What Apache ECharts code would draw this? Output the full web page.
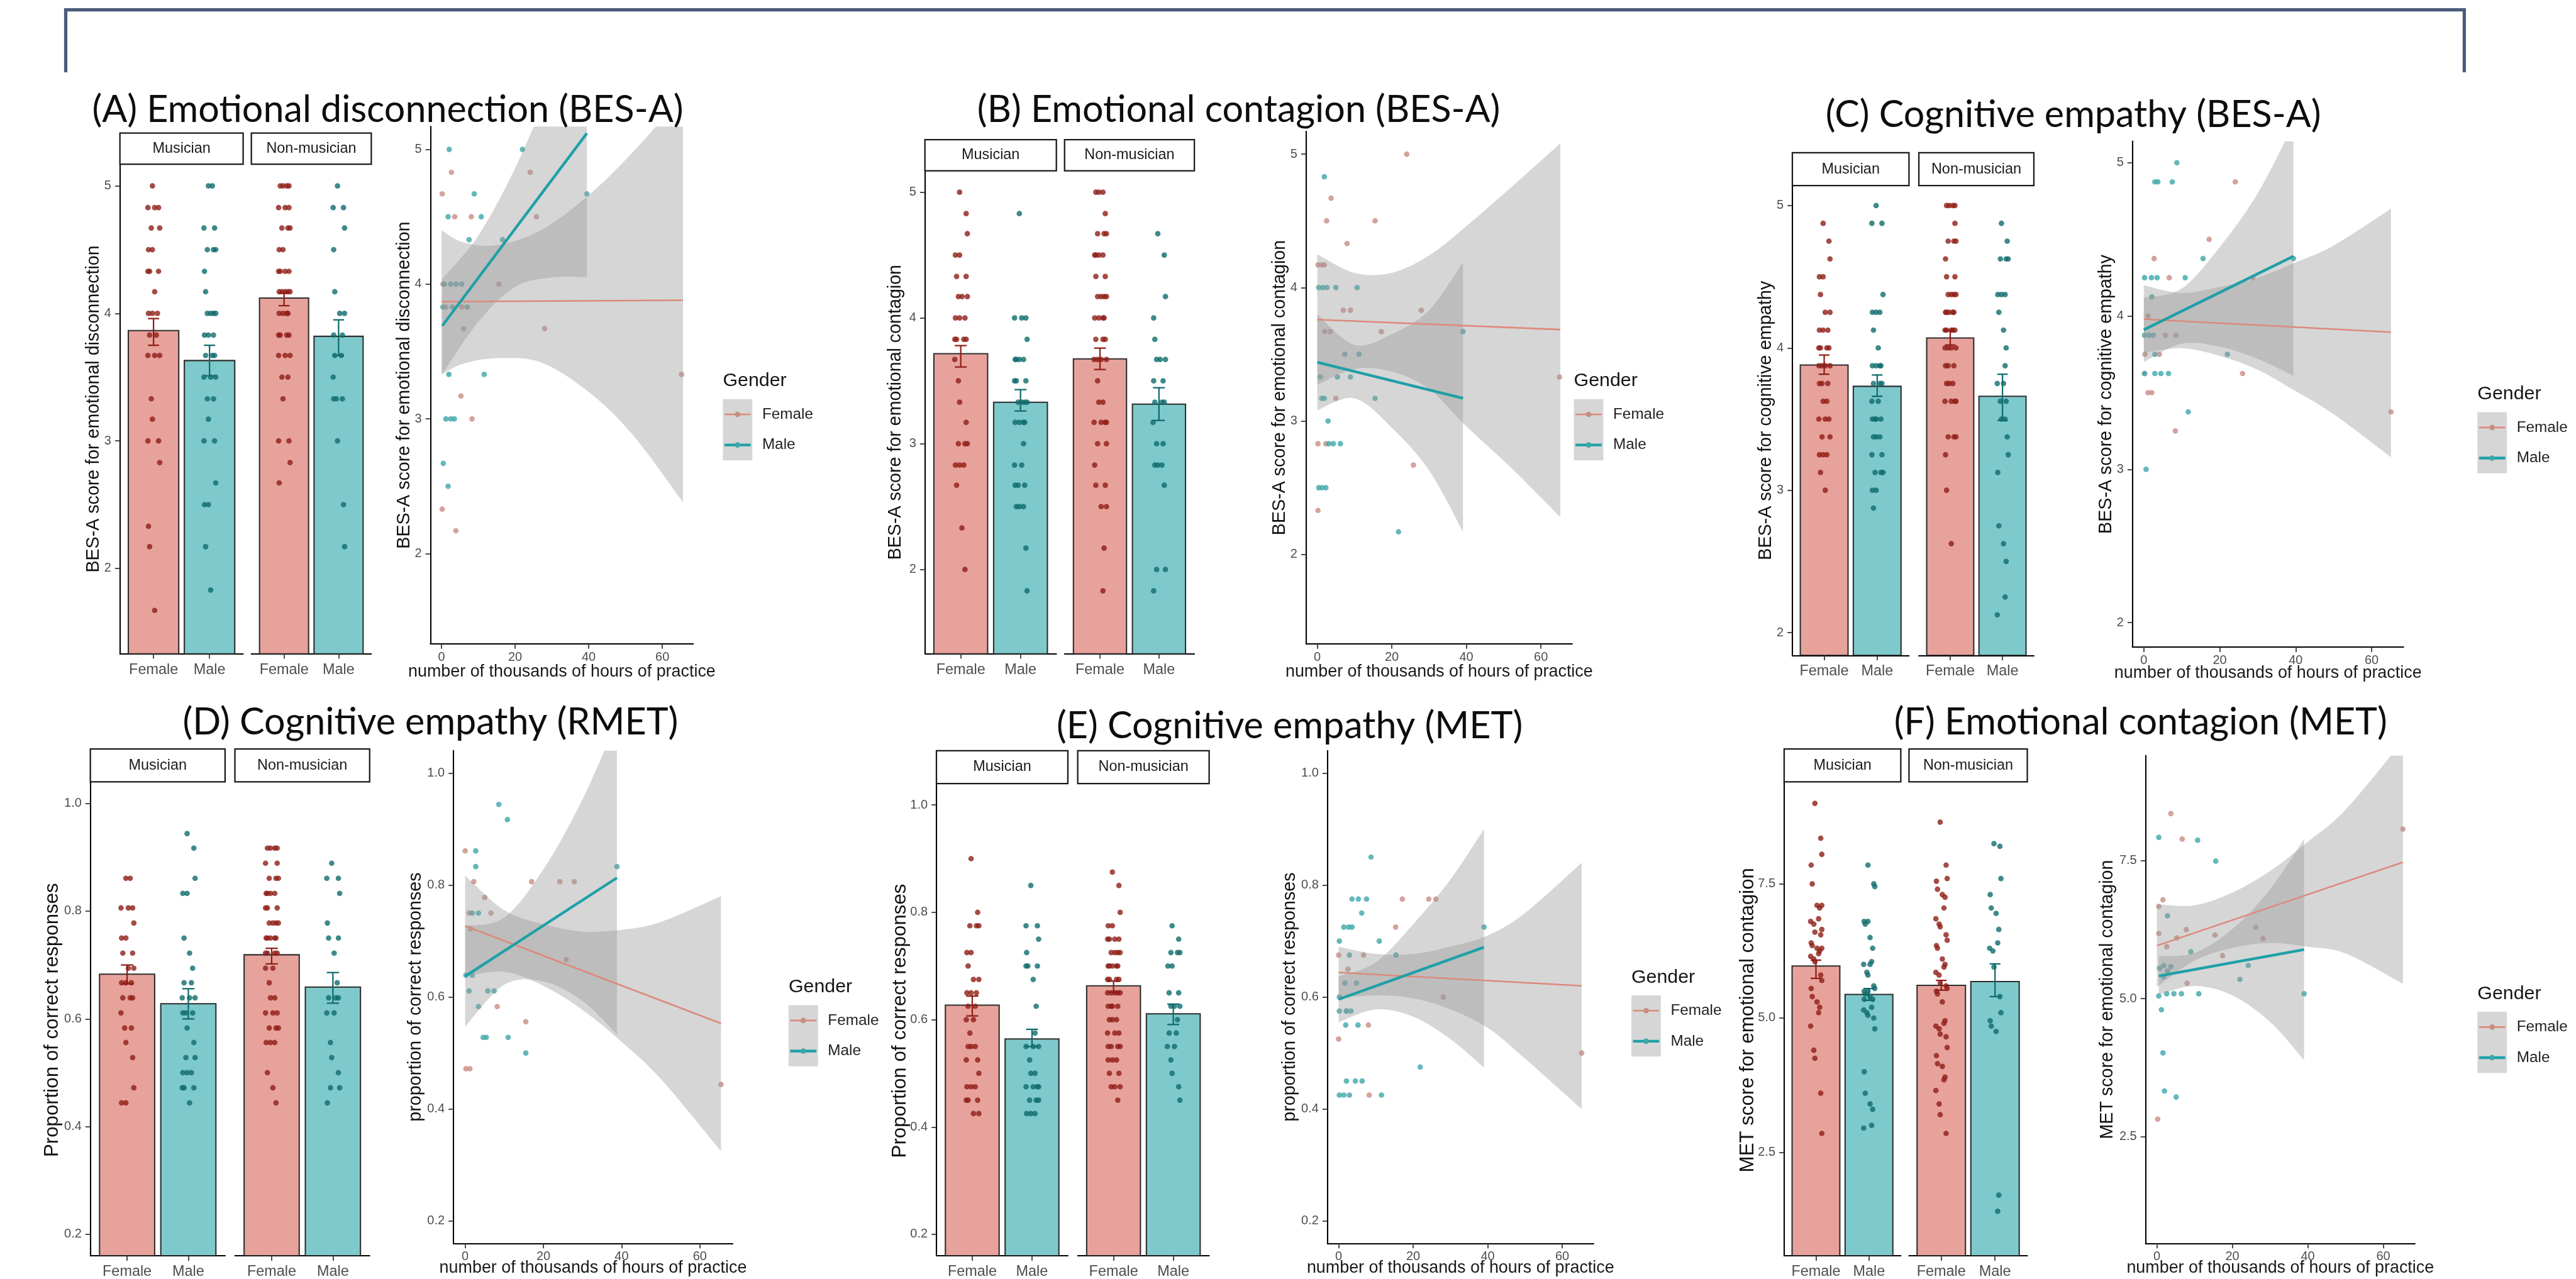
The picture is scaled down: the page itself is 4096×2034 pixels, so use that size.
<!DOCTYPE html>
<html>
<head>
<meta charset="utf-8">
<title>Empathy scores by musicianship and gender</title>
<script src="https://cdn.jsdelivr.net/npm/echarts/dist/echarts.min.js"></script>
<style>
html,body{margin:0;padding:0;background:#ffffff;overflow:hidden;}
#chart{width:4096px;height:2034px;}
</style>
</head>
<body>
<div id="chart"></div>
<script>
// ======================= DATA =======================
const genderCategories = ['Female', 'Male'];
const facetLabels = ['Musician', 'Non-musician'];
const scatterXTicks = [0, 20, 40, 60];
const besTicks = [2, 3, 4, 5];
const propTicks = [0.2, 0.4, 0.6, 0.8, 1.0];
const metTicks = [2.5, 5.0, 7.5];
const xLabel = 'number of thousands of hours of practice';
const legendTitle = 'Gender';

const titles = [
  '(A) Emotional disconnection (BES-A)',
  '(B) Emotional contagion (BES-A)',
  '(C) Cognitive empathy (BES-A)',
  '(D) Cognitive empathy (RMET)',
  '(E) Cognitive empathy (MET)',
  '(F) Emotional contagion (MET)'
];
const barYLabels = [
  'BES-A score for emotional disconnection',
  'BES-A score for emotional contagion',
  'BES-A score for cognitive empathy',
  'Proportion of correct responses',
  'Proportion of correct responses',
  'MET score for emotional contagion'
];
const scatterYLabels = [
  'BES-A score for emotional disconnection',
  'BES-A score for emotional contagion',
  'BES-A score for cognitive empathy',
  'proportion of correct responses',
  'proportion of correct responses',
  'MET score for emotional contagion'
];

// ---- Panel A : emotional disconnection (BES-A) ----
const A_yRange = [1.33, 5.17];
const A_musF = [5, 4.83,4.83,4.83, 4.67,4.67, 4.5,4.5, 4.33,4.33,4.33, 4.17, 4,4,4, 3.83,3.83, 3.67,3.67,3.67, 3.33, 3.17, 3,3, 2.83, 2.33, 2.17, 1.67];
const A_musM = [5,5, 4.67,4.67, 4.5,4.5,4.5, 4.33, 4.17, 4,4,4,4, 3.83,3.83,3.83, 3.67,3.67,3.67, 3.5,3.5,3.5, 3.33,3.33, 3.17, 3,3, 2.67, 2.5,2.5, 2.17, 1.83];
const A_nonF = [5,5,5,5, 4.83,4.83,4.83, 4.67,4.67,4.67, 4.5,4.5, 4.33,4.33,4.33,4.33, 4.17,4.17,4.17,4.17,4.17, 4,4,4,4, 3.83,3.83,3.83,3.83, 3.67,3.67,3.67, 3.5,3.5, 3.33, 3,3, 2.83, 2.67];
const A_nonM = [5, 4.83,4.83, 4.67, 4.5, 4.17, 4,4, 3.83,3.83, 3.67,3.67, 3.5, 3.33,3.33,3.33, 3, 2.5, 2.17];
const A_mean = [3.865, 3.63, 4.12, 3.82];
const A_seLo = [3.75, 3.51, 4.06, 3.67];
const A_seHi = [3.96, 3.75, 4.16, 3.95];
const A_scF = [[0.2,4.67],[2.7,4.83],[0.4,4.0],[6,3.67],[5.3,3.17],[8.3,3.0],[0.2,2.33],[3.9,2.17],[8.1,4.5],[15.6,4.0],[24.1,4.83],[25.8,4.5],[28,3.67],[65.2,3.33],[1.2,3.83],[3.6,4.5],[5.5,3.83]];
const A_scM = [[2.1,5],[22,5],[8.9,4.67],[7.5,4.33],[10.8,4.5],[1.8,4.5],[16.6,4.33],[39.5,4.67],[0.8,4],[2.5,4],[4,4],[5.5,4],[0.4,3.83],[3,3.83],[7,3.83],[2,3.33],[11.6,3.33],[1.2,3],[2.5,3],[3.5,3],[0.5,2.67],[1.8,2.5]];
const A_fitF = [[0,3.87],[65.6,3.88]];
const A_fitM = [[0.2,3.69],[39.5,5.12]];
const A_bandF = [[0,3.33,4.40],[6,3.41,4.31],[15,3.45,4.29],[27,3.42,4.40],[40,3.20,4.66],[52,2.88,4.98],[65.6,2.38,5.40]];
const A_bandM = [[0.2,3.33,4.04],[10,3.72,4.36],[20,3.98,4.86],[30,4.05,5.50],[39.5,4.05,6.20]];
const A_star = [[43, 5.11]];

// ---- Panel B : emotional contagion (BES-A) ----
const B_yRange = [1.33, 5.17];
const B_musF = [5, 4.83, 4.67, 4.5,4.5, 4.33,4.33, 4.17,4.17,4.17, 4,4,4, 3.83,3.83,3.83,3.83, 3.67, 3.5, 3.33, 3.17, 3,3,3, 2.83,2.83,2.83, 2.67, 2.33, 2];
const B_musM = [4.83, 4,4,4, 3.83, 3.67,3.67,3.67,3.67, 3.5,3.5,3.5, 3.33,3.33,3.33,3.33, 3.17,3.17,3.17,3.17, 3, 2.83,2.83, 2.67,2.67,2.67, 2.5,2.5,2.5, 2.17, 1.83];
const B_nonF = [5,5,5, 4.83, 4.67,4.67,4.67, 4.5,4.5,4.5,4.5, 4.33,4.33, 4.17,4.17,4.17,4.17, 4,4,4,4, 3.83,3.83,3.83, 3.67,3.67,3.67,3.67, 3.5, 3.33,3.33, 3.17,3.17,3.17,3.17, 3,3, 2.83, 2.67,2.67, 2.5,2.5, 2.17, 1.83];
const B_nonM = [4.67, 4.5, 4.17, 4, 3.83, 3.67,3.67,3.67, 3.5,3.5, 3.33,3.33,3.33, 3.17, 3,3, 2.83,2.83,2.83, 2.67, 2,2, 1.83];
const B_mean = [3.716, 3.33, 3.675, 3.315];
const B_seLo = [3.61, 3.26, 3.59, 3.185];
const B_seHi = [3.78, 3.43, 3.76, 3.445];
const B_scF = [[24,5],[3.7,4.67],[2.5,4.5],[15.5,4.5],[8,4.33],[0.2,4.17],[1.2,4.17],[1.9,4.17],[7,3.83],[8.9,3.83],[2,3.67],[3.5,3.67],[17.2,3.67],[27.9,3.83],[5,3.17],[0.2,2.83],[2.3,2.83],[25.8,2.67],[0.2,2.33],[65,3.33]];
const B_scM = [[1.9,4.83],[0.4,4],[1.5,4],[2.6,4],[5,4],[10.7,4],[7.4,3.5],[11.2,3.5],[0.8,3.33],[5.4,3.33],[8.9,3.33],[1.2,3.17],[1.9,3.17],[2.9,3],[3.1,2.83],[4.3,2.83],[6.2,2.83],[0.4,2.5],[1.3,2.5],[2.3,2.5],[15.5,3.17],[21.8,2.17],[39.1,3.67]];
const B_fitF = [[0,3.76],[65.2,3.685]];
const B_fitM = [[0,3.44],[39.1,3.17]];
const B_bandF = [[0,3.27,4.25],[10,3.39,4.11],[20,3.37,4.11],[30,3.24,4.24],[40,2.96,4.46],[52,2.65,4.75],[65.2,2.28,5.08]];
const B_bandM = [[0,3.08,3.80],[10,3.17,3.57],[20,2.95,3.65],[30,2.63,3.83],[39.1,2.17,4.19]];

// ---- Panel C : cognitive empathy (BES-A) ----
const C_yRange = [1.84, 5.14];
const C_musF = [4.875, 4.75, 4.625, 4.5,4.5, 4.375, 4.25,4.25, 4.125,4.125,4.125, 4,4,4,4, 3.875,3.875,3.875,3.875, 3.75,3.75,3.75, 3.625,3.625, 3.5,3.5,3.5, 3.375,3.375, 3.25,3.25,3.25, 3.125, 3];
const C_musM = [5, 4.875,4.875, 4.375, 4.25,4.25,4.25, 4.125, 4, 3.875,3.875,3.875,3.875, 3.75,3.75,3.75, 3.625,3.625, 3.5,3.5,3.5,3.5, 3.375,3.375,3.375, 3.25,3.25, 3.125,3.125,3.125, 3,3, 2.875];
const C_nonF = [5,5,5,5, 4.875, 4.75,4.75,4.75, 4.625, 4.5,4.5, 4.375,4.375,4.375,4.375, 4.25,4.25,4.25,4.25,4.25, 4.125,4.125,4.125,4.125,4.125, 4,4,4,4, 3.875,3.875,3.875, 3.75,3.75,3.75, 3.625,3.625,3.625,3.625, 3.375,3.375,3.375, 3.25, 3, 2.625];
const C_nonM = [4.875, 4.75, 4.625,4.625,4.625, 4.375,4.375,4.375, 4.25, 4.125, 4, 3.875, 3.75,3.75, 3.625,3.625, 3.5,3.5, 3.375, 3.25, 3.125, 2.75, 2.625, 2.5, 2.25, 2.125];
const C_mean = [3.88, 3.73, 4.07, 3.66];
const C_seLo = [3.815, 3.66, 4.02, 3.49];
const C_seHi = [3.95, 3.81, 4.12, 3.815];
const C_scF = [[24.1,4.875],[17.2,4.5],[2.7,4.375],[6.7,4.25],[1.1,4.0],[0.3,3.75],[4.1,3.75],[0.2,3.625],[1.1,3.5],[2.1,3.5],[8.3,3.25],[26,3.625],[65.1,3.375],[28.7,4.25],[5.7,3.875],[8.5,3.875]];
const C_scM = [[8.7,5],[2.9,4.875],[3.7,4.875],[7.5,4.875],[15.6,4.375],[10.9,4.25],[0.2,4.25],[2,4.25],[3.5,4.25],[2.1,4.125],[0.2,3.875],[1.4,3.875],[2.5,3.875],[39.4,4.375],[2.9,3.625],[4.5,3.625],[6.5,3.625],[0.2,3.625],[11.7,3.375],[0.6,3],[2.9,3.75],[22,3.75]];
const C_fitF = [[0,3.98],[65.1,3.895]];
const C_fitM = [[0,3.91],[39.4,4.39]];
const C_bandF = [[0,3.76,4.20],[10,3.79,4.15],[20,3.74,4.19],[30,3.65,4.25],[40,3.51,4.35],[50,3.36,4.46],[65.1,3.08,4.70]];
const C_bandM = [[0,3.70,4.12],[10,3.82,4.18],[20,3.80,4.45],[30,3.72,4.80],[39.4,3.61,5.25]];

// ---- Panel D : cognitive empathy (RMET) ----
const D_yRange = [0.16, 1.04];
const D_musF = [0.861,0.861, 0.806,0.806,0.806, 0.778, 0.75,0.75, 0.722,0.722, 0.694,0.694, 0.667,0.667,0.667, 0.639,0.639,0.639, 0.611, 0.583,0.583, 0.556, 0.528, 0.472, 0.444,0.444];
const D_musM = [0.944, 0.917, 0.861, 0.833,0.833, 0.75, 0.722, 0.694, 0.667,0.667, 0.639,0.639,0.639, 0.611,0.611,0.611, 0.583, 0.556, 0.528,0.528, 0.5,0.5,0.5, 0.472,0.472,0.472, 0.444];
const D_nonF = [0.917,0.917,0.917,0.917, 0.889,0.889, 0.861,0.861,0.861, 0.833,0.833,0.833,0.833, 0.806,0.806,0.806, 0.778,0.778,0.778,0.778, 0.75,0.75,0.75,0.75,0.75, 0.722,0.722,0.722,0.722, 0.694,0.694, 0.667, 0.639,0.639, 0.611,0.611,0.611, 0.583,0.583,0.583, 0.556,0.556,0.556, 0.5, 0.472, 0.444];
const D_nonM = [0.889, 0.861,0.861, 0.833, 0.778, 0.75,0.75, 0.722, 0.667, 0.639,0.639,0.639, 0.611,0.611, 0.556, 0.528, 0.5, 0.472,0.472, 0.444];
const D_mean = [0.683, 0.628, 0.719, 0.659];
const D_seLo = [0.665, 0.60, 0.702, 0.629];
const D_seHi = [0.70, 0.656, 0.731, 0.686];
const D_scF = [[0,0.861],[2.2,0.806],[5,0.778],[6.6,0.75],[1,0.75],[1.4,0.722],[17,0.806],[24.2,0.806],[27.9,0.806],[25.8,0.667],[8.2,0.583],[15.5,0.556],[0.2,0.472],[1.2,0.472],[65.4,0.444]];
const D_scM = [[8.6,0.944],[10.8,0.917],[2.7,0.861],[2.7,0.833],[1.8,0.75],[3.4,0.75],[0.2,0.639],[1.8,0.639],[1,0.611],[5.8,0.611],[7.4,0.611],[3.4,0.583],[4.6,0.528],[5.4,0.528],[11,0.528],[15.5,0.5],[38.8,0.833]];
const D_fitF = [[0,0.727],[65.4,0.553]];
const D_fitM = [[0,0.637],[38.8,0.813]];
const D_bandF = [[0,0.637,0.817],[10,0.645,0.755],[20,0.62,0.73],[30,0.577,0.717],[40,0.52,0.72],[50,0.454,0.734],[65.4,0.325,0.78]];
const D_bandM = [[0,0.547,0.727],[10,0.622,0.742],[20,0.628,0.828],[30,0.593,0.953],[38.8,0.533,1.093]];

// ---- Panel E : cognitive empathy (MET) ----
const E_yRange = [0.16, 1.04];
const E_musF = [0.9, 0.8, 0.775,0.775,0.775, 0.725,0.725, 0.7, 0.675,0.675, 0.65,0.65,0.65, 0.625,0.625, 0.6,0.6, 0.575, 0.55,0.55,0.55, 0.525,0.525, 0.5, 0.475,0.475,0.475, 0.45,0.45,0.45, 0.425,0.425];
const E_musM = [0.85, 0.775,0.775, 0.75, 0.725, 0.7,0.7,0.7, 0.675, 0.625, 0.575, 0.55,0.55,0.55, 0.525, 0.5,0.5, 0.475,0.475,0.475,0.475, 0.45,0.45,0.45, 0.425,0.425,0.425];
const E_nonF = [0.875, 0.85, 0.8, 0.775,0.775, 0.75,0.75,0.75,0.75, 0.725,0.725,0.725,0.725, 0.7,0.7,0.7,0.7,0.7, 0.675,0.675,0.675,0.675, 0.65,0.65,0.65,0.65,0.65, 0.625,0.625,0.625,0.625, 0.6,0.6,0.6, 0.575,0.575,0.575, 0.55,0.55,0.55,0.55, 0.525,0.525,0.525, 0.5,0.5, 0.475,0.475,0.475, 0.45];
const E_nonM = [0.775, 0.75, 0.725,0.725,0.725, 0.7,0.7, 0.65,0.65, 0.625,0.625,0.625, 0.6, 0.575,0.575, 0.55,0.55, 0.525, 0.5, 0.475, 0.45];
const E_mean = [0.627, 0.564, 0.663, 0.611];
const E_seLo = [0.607, 0.55, 0.651, 0.591];
const E_seHi = [0.644, 0.582, 0.672, 0.629];
const E_scF = [[0,0.675],[2.5,0.65],[6.7,0.675],[0,0.525],[8,0.55],[8.2,0.425],[17.1,0.775],[24.2,0.775],[26.1,0.775],[15.3,0.725],[28.1,0.6],[65.2,0.5],[2.1,0.575]];
const E_scM = [[8.7,0.85],[3.6,0.775],[5.3,0.775],[7.5,0.775],[6.2,0.75],[1.4,0.725],[2.7,0.725],[3.6,0.725],[0.2,0.7],[10.9,0.7],[2.9,0.675],[15.4,0.675],[1.7,0.625],[4.8,0.625],[0.2,0.575],[2.1,0.575],[3.3,0.575],[1.9,0.55],[5.2,0.55],[2.1,0.45],[4.5,0.45],[6.3,0.45],[0.2,0.425],[1.4,0.425],[2.9,0.425],[11.5,0.425],[21.9,0.475],[39,0.725],[0.2,0.6]];
const E_fitF = [[0,0.644],[65.2,0.62]];
const E_fitM = [[0,0.596],[39,0.689]];
const E_bandF = [[0,0.598,0.69],[10,0.603,0.677],[20,0.598,0.677],[30,0.578,0.69],[40,0.545,0.71],[50,0.49,0.75],[65.2,0.40,0.84]];
const E_bandM = [[0,0.555,0.637],[10,0.578,0.662],[20,0.565,0.73],[30,0.525,0.81],[39,0.474,0.90]];

// ---- Panel F : emotional contagion (MET) ----
const F_yRange = [0.57, 9.4];
const F_musF = [9.0, 8.35, 8.05, 7.85, 7.5, 7.1, 7.05, 7.1, 6.85, 6.8, 6.75, 6.6, 6.55, 6.65, 6.4, 6.35, 6.3, 6.25, 6.2, 6.15, 6.1, 6.05, 6.3, 5.8, 5.7, 5.55, 5.4, 5.3, 5.2, 5.1, 4.85, 4.4, 4.25, 3.6, 2.85];
const F_musM = [7.85, 7.5, 7.45, 6.8, 6.8, 6.75, 6.5, 6.3, 6.05, 6.0, 6.0, 5.85, 5.8, 5.6, 5.55, 5.5, 5.5, 5.45, 5.4, 5.35, 5.35, 5.2, 5.15, 5.1, 5.05, 5.0, 4.8, 4.0, 3.6, 3.4, 3.3, 3.0, 2.95];
const F_nonF = [8.65, 7.85, 7.6, 7.55, 7.4, 7.3, 7.25, 7.05, 6.85, 6.75, 6.7, 6.55, 6.45, 6.35, 6.3, 6.1, 6.0, 5.95, 5.85, 5.8, 5.65, 5.6, 5.55, 5.5, 5.45, 5.3, 4.95, 4.9, 4.85, 4.8, 4.7, 4.65, 4.45, 4.3, 4.15, 4.1, 3.9, 3.85, 3.65, 3.4, 3.2, 2.85];
const F_nonM = [8.25, 8.2, 7.6, 7.3, 7.05, 6.95, 6.65, 6.4, 6.3, 6.25, 5.95, 5.4, 5.1, 4.95, 4.85, 4.75, 1.7, 1.4];
const F_mean = [5.97, 5.44, 5.61, 5.68];
const F_seLo = [5.74, 5.33, 5.52, 5.40];
const F_seHi = [6.08, 5.55, 5.70, 6.01];
const F_scF = [[3.7,8.35],[6.7,7.89],[0.5,6.67],[1.6,6.79],[0.5,6.18],[5.3,6.1],[7.8,6.25],[15.4,6.15],[2.6,5.94],[17.4,5.78],[26.2,6.29],[28.1,6.09],[8,5.28],[0.2,2.82],[65.2,8.07]];
const F_scM = [[0.5,7.92],[10.8,7.87],[15.6,7.49],[2.8,6.5],[9,5.85],[0.7,5.55],[1.8,5.6],[2.8,5.5],[3.7,5.58],[1.8,5.4],[0.5,5.05],[2.6,5.09],[4.5,5.09],[6.5,5.09],[11.1,5.09],[1.2,4.8],[1.6,4.02],[2,3.33],[5.1,3.22],[22,5.35],[39,5.09],[24.2,5.6]];
const F_fitF = [[0,5.96],[65.2,7.47]];
const F_fitM = [[0.5,5.41],[39,5.89]];
const F_bandF = [[0,5.21,6.71],[10,5.69,6.69],[20,5.92,6.92],[30,6.01,7.31],[40,5.94,7.84],[50,5.82,8.42],[65.2,5.27,9.67]];
const F_bandM = [[0.5,5.07,5.77],[10,5.23,5.83],[20,5.06,6.26],[30,4.58,6.98],[39,3.89,7.89]];

// ======================= LAYOUT =======================
// positions in units of a 1568-wide view of the figure; sizes in units of the 4719-wide original
const U = 4096 / 1568;
const u = v => v * U;
const K = 4096 / 4719;
const s = v => v * K;

const LAYOUTS = [
  {title:[236,67],  bars:{f1:[73,148],   f2:[153,226],   strip:81, top:100, bottom:398, ylab:57,   yfs:33}, sc:{l:262,  r:422,  t:77,  b:392, ylab:246,  xlab:409}, leg:[440,232]},
  {title:[754,67],  bars:{f1:[563,643],  f2:[648,727],   strip:85, top:104, bottom:398, ylab:545,  yfs:33}, sc:{l:795,  r:957,  t:80,  b:392, ylab:779,  xlab:409}, leg:[958,232]},
  {title:[1262,70], bars:{f1:[1091,1162],f2:[1168,1238], strip:93, top:113, bottom:399, ylab:1075, yfs:33}, sc:{l:1298, r:1463, t:86,  b:394, ylab:1282, xlab:410}, leg:[1508,240]},
  {title:[262,440], bars:{f1:[55,137],   f2:[143,225],   strip:456, top:476, bottom:766, ylab:32,  yfs:36}, sc:{l:276,  r:446,  t:457, b:757, ylab:253,  xlab:772}, leg:[480,601]},
  {title:[785,442], bars:{f1:[570,650],  f2:[656,736],   strip:457, top:477, bottom:766, ylab:548, yfs:36}, sc:{l:808,  r:970,  t:457, b:757, ylab:785,  xlab:772}, leg:[993,595]},
  {title:[1303,440],bars:{f1:[1086,1157],f2:[1162,1234], strip:456, top:476, bottom:766, ylab:1064,yfs:36}, sc:{l:1306, r:1470, t:460, b:757, ylab:1283, xlab:772}, leg:[1508,605]}
];
const TITLE_REF_WIDTH = 360; // width of title A in the 1568 view

const PANELS = [
  {title:titles[0], barY:barYLabels[0], scY:scatterYLabels[0], yr:A_yRange, ticks:besTicks, dec:0, groups:[A_musF,A_musM,A_nonF,A_nonM], mean:A_mean, lo:A_seLo, hi:A_seHi, scF:A_scF, scM:A_scM, fitF:A_fitF, fitM:A_fitM, bandF:A_bandF, bandM:A_bandM, star:A_star},
  {title:titles[1], barY:barYLabels[1], scY:scatterYLabels[1], yr:B_yRange, ticks:besTicks, dec:0, groups:[B_musF,B_musM,B_nonF,B_nonM], mean:B_mean, lo:B_seLo, hi:B_seHi, scF:B_scF, scM:B_scM, fitF:B_fitF, fitM:B_fitM, bandF:B_bandF, bandM:B_bandM},
  {title:titles[2], barY:barYLabels[2], scY:scatterYLabels[2], yr:C_yRange, ticks:besTicks, dec:0, groups:[C_musF,C_musM,C_nonF,C_nonM], mean:C_mean, lo:C_seLo, hi:C_seHi, scF:C_scF, scM:C_scM, fitF:C_fitF, fitM:C_fitM, bandF:C_bandF, bandM:C_bandM},
  {title:titles[3], barY:barYLabels[3], scY:scatterYLabels[3], yr:D_yRange, ticks:propTicks, dec:1, groups:[D_musF,D_musM,D_nonF,D_nonM], mean:D_mean, lo:D_seLo, hi:D_seHi, scF:D_scF, scM:D_scM, fitF:D_fitF, fitM:D_fitM, bandF:D_bandF, bandM:D_bandM},
  {title:titles[4], barY:barYLabels[4], scY:scatterYLabels[4], yr:E_yRange, ticks:propTicks, dec:1, groups:[E_musF,E_musM,E_nonF,E_nonM], mean:E_mean, lo:E_seLo, hi:E_seHi, scF:E_scF, scM:E_scM, fitF:E_fitF, fitM:E_fitM, bandF:E_bandF, bandM:E_bandM},
  {title:titles[5], barY:barYLabels[5], scY:scatterYLabels[5], yr:F_yRange, ticks:metTicks, dec:1, groups:[F_musF,F_musM,F_nonF,F_nonM], mean:F_mean, lo:F_seLo, hi:F_seHi, scF:F_scF, scM:F_scM, fitF:F_fitF, fitM:F_fitM, bandF:F_bandF, bandM:F_bandM}
];

// ======================= STYLE =======================
const FONT = "'Liberation Sans', Arial, Helvetica, sans-serif";
const TFONT = "Lato, 'Open Sans', 'Noto Sans', sans-serif";
const COL = {
  barF:'#E8A29C', barM:'#7EC9CB', barEdge:'#2E2E2E',
  dotF:'#8E1E16', dotM:'#0F6B6D',
  errF:'#8E1E16', errM:'#0F6B6D',
  ptF:'#C98C84', ptM:'#3DA6A9',
  lineF:'#DC8A7B', lineM:'#1FA0A6',
  band:'rgba(153,153,153,0.4)', legendBg:'#D6D6D6',
  axis:'#000000', tick:'#333333', tickLabel:'#4D4D4D', text:'#111111',
  frame:'#4A5A7A'
};
const JIT = [-0.02, 0.05, -0.07, 0.09, -0.1, 0.02, 0.11, -0.04, 0.07, -0.09];
const X_RANGE = [-3.0, 68.4];

// ======================= BUILD =======================
const grids = [], xAxis = [], yAxis = [], series = [], graphic = [];

function addText(x, y, text, size, o) {
  o = o || {};
  graphic.push({
    type:'text', x:x, y:y, rotation:o.rot || 0, silent:true, z:50,
    style:{text:text, fontSize:s(size), fontFamily:o.ff || FONT, fill:o.color || COL.text,
      fontWeight:o.fw || 'normal',
      align:o.align || 'center', textAlign:o.align || 'center',
      verticalAlign:'middle', textVerticalAlign:'middle'}
  });
}
function addRect(x, y, w, h, fill, stroke, lw) {
  graphic.push({type:'rect', silent:true, z:40, shape:{x:x, y:y, width:w, height:h},
    style:{fill:fill, stroke:stroke || null, lineWidth:lw ? s(lw) : 0}});
}
function fitFont(text, width, family) {
  const ctx = document.createElement('canvas').getContext('2d');
  ctx.font = '100px ' + family;
  return 100 * width / ctx.measureText(text).width;
}
function jitter(vals, cx) {
  const seen = {}; let r = 0; const out = [];
  vals.forEach(v => {
    const key = v.toFixed(4);
    if (!(key in seen)) seen[key] = {k:0, r:r++};
    const st = seen[key];
    out.push([cx + JIT[(st.k + st.r * 3) % JIT.length], v]);
    st.k++;
  });
  return out;
}
function axisLineStyle() { return {color:COL.axis, width:s(2.4)}; }
function valueY(gi, p, show) {
  return {gridIndex:gi, type:'value', min:p.yr[0], max:p.yr[1], show:show,
    axisLine:{show:true, onZero:false, lineStyle:axisLineStyle()},
    axisTick:{show:true, customValues:p.ticks, length:s(9), lineStyle:{color:COL.tick, width:s(2)}},
    axisLabel:{show:true, customValues:p.ticks, formatter:v => p.dec ? Number(v).toFixed(p.dec) : String(v),
      margin:s(16), fontSize:s(23), color:COL.tickLabel, fontFamily:FONT},
    splitLine:{show:false}};
}
function barX(gi) {
  return {gridIndex:gi, type:'value', min:0.4, max:2.6,
    axisLine:{show:true, onZero:false, lineStyle:axisLineStyle()},
    axisTick:{show:true, customValues:[1,2], length:s(9), lineStyle:{color:COL.tick, width:s(2)}},
    axisLabel:{show:true, customValues:[1,2], formatter:v => genderCategories[Math.round(v) - 1],
      margin:s(16), fontSize:s(27), color:COL.tickLabel, fontFamily:FONT},
    splitLine:{show:false}};
}
function bandSeries(gi, band) {
  return {type:'custom', xAxisIndex:gi, yAxisIndex:gi, clip:true, silent:true, z:3,
    data:[[band[0][0], band[0][1]]],
    renderItem:(params, api) => {
      const up = band.map(b => api.coord([b[0], b[2]]));
      const dn = band.map(b => api.coord([b[0], b[1]])).reverse();
      const seg = (pts, first) => {
        let d = (first ? 'M' : 'L') + pts[0][0] + ' ' + pts[0][1];
        for (let i = 0; i < pts.length - 1; i++) {
          const p0 = pts[Math.max(0, i - 1)], p1 = pts[i], p2 = pts[i + 1], p3 = pts[Math.min(pts.length - 1, i + 2)];
          const c1 = [p1[0] + (p2[0] - p0[0]) / 6, p1[1] + (p2[1] - p0[1]) / 6];
          const c2 = [p2[0] - (p3[0] - p1[0]) / 6, p2[1] - (p3[1] - p1[1]) / 6];
          d += ' C' + c1[0] + ' ' + c1[1] + ' ' + c2[0] + ' ' + c2[1] + ' ' + p2[0] + ' ' + p2[1];
        }
        return d;
      };
      return {type:'path', shape:{pathData: seg(up, true) + ' ' + seg(dn, false) + ' Z'}, style:{fill:COL.band}};
    }};
}
function legendBlock(pos) {
  const gx = u(pos[0]), gy = u(pos[1]);
  addText(gx, gy, legendTitle, 35, {align:'left', color:'#151515'});
  const bt = gy + s(33), kw = s(54), kh = s(56);
  addRect(gx, bt, kw, 2 * kh, COL.legendBg);
  [['Female', COL.lineF, COL.ptF, 3], ['Male', COL.lineM, COL.ptM, 5]].forEach((e, i) => {
    const cy = bt + kh * (i + 0.5);
    graphic.push({type:'line', silent:true, z:45, shape:{x1:gx + s(3), y1:cy, x2:gx + kw - s(3), y2:cy},
      style:{stroke:e[1], lineWidth:s(e[3])}});
    graphic.push({type:'circle', silent:true, z:46, shape:{cx:gx + kw / 2, cy:cy, r:s(5)}, style:{fill:e[2]}});
    addText(gx + kw + s(18), cy, e[0], 28, {align:'left', color:'#222'});
  });
}

const titleFont = fitFont(titles[0], TITLE_REF_WIDTH * 4719 / 1568, TFONT);

PANELS.forEach((p, pi) => {
  const L = LAYOUTS[pi];
  addText(u(L.title[0]), u(L.title[1]), p.title, titleFont, {ff:TFONT, color:'#0d0d0d'});

  // ----- faceted bar chart -----
  [0, 1].forEach(fi => {
    const f = fi === 0 ? L.bars.f1 : L.bars.f2;
    const gi = grids.length;
    grids.push({left:u(f[0]), top:u(L.bars.top), width:u(f[1] - f[0]), height:u(L.bars.bottom - L.bars.top)});
    xAxis.push(barX(gi));
    yAxis.push(valueY(gi, p, fi === 0));
    addRect(u(f[0]), u(L.bars.strip), u(f[1] - f[0]), u(L.bars.top - L.bars.strip), '#ffffff', '#1a1a1a', 2.6);
    addText(u((f[0] + f[1]) / 2), u((L.bars.strip + L.bars.top) / 2), facetLabels[fi], 27, {color:'#1a1a1a'});
    const gF = 2 * fi, gM = 2 * fi + 1;
    const yMin = p.yr[0];
    series.push({type:'custom', xAxisIndex:gi, yAxisIndex:gi, clip:true, silent:true, z:1,
      data:[[1, p.mean[gF]], [2, p.mean[gM]]],
      renderItem:(params, api) => {
        const x = api.value(0), y = api.value(1);
        const a = api.coord([x - 0.45, y]), b = api.coord([x + 0.45, yMin]);
        return {type:'rect', shape:{x:a[0], y:a[1], width:b[0] - a[0], height:b[1] - a[1]},
          style:{fill: params.dataIndex === 0 ? COL.barF : COL.barM, stroke:COL.barEdge, lineWidth:s(2.4)}};
      }});
    series.push({type:'scatter', xAxisIndex:gi, yAxisIndex:gi, silent:true, z:2, symbolSize:s(10),
      data:jitter(p.groups[gF], 1), itemStyle:{color:COL.dotF}});
    series.push({type:'scatter', xAxisIndex:gi, yAxisIndex:gi, silent:true, z:2, symbolSize:s(10),
      data:jitter(p.groups[gM], 2), itemStyle:{color:COL.dotM}});
    series.push({type:'custom', xAxisIndex:gi, yAxisIndex:gi, clip:true, silent:true, z:4,
      data:[[1, p.lo[gF], p.hi[gF]], [2, p.lo[gM], p.hi[gM]]],
      renderItem:(params, api) => {
        const x = api.value(0), lo = api.value(1), hi = api.value(2);
        const pl = api.coord([x, lo]), ph = api.coord([x, hi]);
        const xl = api.coord([x - 0.1, lo])[0], xr = api.coord([x + 0.1, lo])[0];
        const c = params.dataIndex === 0 ? COL.errF : COL.errM;
        const st = {stroke:c, lineWidth:s(2.6)};
        return {type:'group', children:[
          {type:'line', shape:{x1:pl[0], y1:pl[1], x2:ph[0], y2:ph[1]}, style:st},
          {type:'line', shape:{x1:xl, y1:pl[1], x2:xr, y2:pl[1]}, style:st},
          {type:'line', shape:{x1:xl, y1:ph[1], x2:xr, y2:ph[1]}, style:st}
        ]};
      }});
  });
  addText(u(L.bars.ylab), u((L.bars.top + L.bars.bottom) / 2), p.barY, L.bars.yfs, {rot:Math.PI / 2, color:'#111'});

  // ----- scatter with regression -----
  const S = L.sc;
  const gi = grids.length;
  grids.push({left:u(S.l), top:u(S.t), width:u(S.r - S.l), height:u(S.b - S.t)});
  xAxis.push({gridIndex:gi, type:'value', min:X_RANGE[0], max:X_RANGE[1],
    axisLine:{show:true, onZero:false, lineStyle:axisLineStyle()},
    axisTick:{show:true, customValues:scatterXTicks, length:s(9), lineStyle:{color:COL.tick, width:s(2)}},
    axisLabel:{show:true, customValues:scatterXTicks, formatter:v => String(v), margin:s(13), fontSize:s(23), color:COL.tickLabel, fontFamily:FONT},
    splitLine:{show:false}});
  yAxis.push(valueY(gi, p, true));
  series.push({type:'scatter', xAxisIndex:gi, yAxisIndex:gi, silent:true, z:2, symbolSize:s(10), data:p.scF, itemStyle:{color:COL.ptF}});
  series.push({type:'scatter', xAxisIndex:gi, yAxisIndex:gi, silent:true, z:2, symbolSize:s(10), data:p.scM, itemStyle:{color:COL.ptM}});
  series.push(bandSeries(gi, p.bandF));
  series.push(bandSeries(gi, p.bandM));
  series.push({type:'line', xAxisIndex:gi, yAxisIndex:gi, silent:true, z:5, data:p.fitF, symbol:'none', lineStyle:{color:COL.lineF, width:s(3)}});
  series.push({type:'line', xAxisIndex:gi, yAxisIndex:gi, silent:true, z:5, data:p.fitM, symbol:'none', lineStyle:{color:COL.lineM, width:s(5)}});
  if (p.star) {
    series.push({type:'scatter', xAxisIndex:gi, yAxisIndex:gi, silent:true, z:6, symbolSize:1, data:p.star,
      itemStyle:{opacity:0},
      label:{show:true, position:'inside', formatter:'*', fontSize:s(82), fontWeight:'bold', color:'#111', fontFamily:FONT, offset:[0, s(16)]}});
  }
  addText(u((S.l + S.r) / 2), u(S.xlab), xLabel, 31, {color:'#1a1a1a'});
  addText(u(S.ylab), u((S.t + S.b) / 2), p.scY, 33, {rot:Math.PI / 2, color:'#111'});
  legendBlock(L.leg);
});

// frame line at the top of the figure
graphic.push({type:'polyline', silent:true, z:30,
  shape:{points:[[u(40), u(44)], [u(40), u(6)], [u(1500), u(6)], [u(1500), u(44)]]},
  style:{stroke:COL.frame, lineWidth:s(6), fill:null}});

const chart = echarts.init(document.getElementById('chart'), null, {renderer:'canvas'});
chart.setOption({
  animation:false,
  backgroundColor:'#ffffff',
  grid:grids,
  xAxis:xAxis,
  yAxis:yAxis,
  series:series,
  graphic:{elements:graphic}
});
</script>
</body>
</html>
